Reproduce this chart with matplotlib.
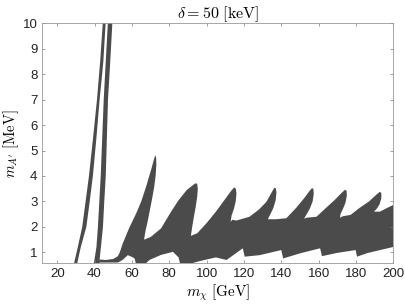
import matplotlib
matplotlib.use("Agg")
import matplotlib.pyplot as plt

plt.rcParams['font.family'] = ['Liberation Sans', 'DejaVu Sans']
plt.rcParams['mathtext.fontset'] = 'cm'

# allowed region (m_chi [GeV], m_A' [MeV])
band1_x = [28.8, 31.0, 33.4, 35.2, 37.0, 39.2, 41.3, 43.0, 44.5, 46.0, 44.7, 43.8, 42.7, 41.0, 39.1, 37.4, 35.6, 32.6, 30.5]
band1_y = [0.5, 1.2, 2.0, 3.0, 4.0, 5.5, 7.0, 8.5, 10.1, 10.1, 8.5, 7.8, 7.0, 5.5, 4.0, 3.0, 2.0, 1.2, 0.5]

band2_x = [39.5, 41.0, 41.8, 43.3, 44.9, 46.0, 47.2, 49.6, 48.4, 47.2, 46.0, 45.2, 44.5, 43.4, 42.4]
band2_y = [0.5, 1.2, 2.0, 4.0, 7.0, 8.5, 10.1, 10.1, 8.5, 7.0, 4.0, 3.0, 2.0, 1.2, 0.5]

# upper edge of the saw-tooth region, left to right
top_x = [42.3, 42.6, 46.0, 50.0, 52.5, 53.5, 55.1, 58.5, 62.3, 65.0, 67.6, 70.5, 71.8, 72.5,
         73.0, 73.1, 72.7, 71.9, 70.8, 69.6, 68.4, 67.3, 66.5,
         70.0, 75.6, 81.0, 85.0, 89.4, 92.5, 94.2,
         95.0, 95.3, 95.0, 94.2, 93.2, 92.3, 91.6,
         95.0, 100.0, 105.0, 110.0, 113.2, 114.8,
         115.7, 116.0, 115.6, 114.6, 113.4, 112.9, 113.8, 116.0,
         123.0, 128.0, 132.0, 134.8, 136.2,
         137.1, 137.4, 137.0, 135.8, 134.3, 132.8, 133.9, 137.0,
         142.7, 148.0, 152.5, 155.2, 156.4,
         157.2, 157.4, 156.8, 155.3, 153.6, 152.2, 153.5,
         158.9, 164.0, 168.5, 172.5, 174.2,
         175.0, 175.1, 174.4, 173.0, 171.8, 171.4, 173.0,
         177.1, 182.0, 187.0, 191.0, 192.8,
         193.6, 193.6, 192.6, 191.0, 189.6, 192.9, 196.0, 200.5]
top_y = [0.6, 0.72, 0.70, 0.74, 0.85, 1.0, 1.35, 1.95, 2.53, 3.0, 3.58, 4.3, 4.65, 4.82,
         4.7, 4.45, 4.0, 3.55, 3.1, 2.65, 2.2, 1.85, 1.5,
         1.6, 1.94, 2.6, 3.05, 3.45, 3.63, 3.72,
         3.68, 3.5, 3.2, 2.8, 2.4, 2.0, 1.65,
         1.75, 2.15, 2.6, 3.1, 3.42, 3.55,
         3.5, 3.3, 3.0, 2.7, 2.45, 2.2, 2.28, 2.25,
         2.4, 2.68, 2.98, 3.35, 3.53,
         3.52, 3.35, 3.05, 2.75, 2.52, 2.3, 2.3, 2.3,
         2.34, 2.75, 3.15, 3.42, 3.52,
         3.5, 3.3, 3.0, 2.72, 2.5, 2.32, 2.36,
         2.4, 2.75, 3.05, 3.35, 3.46,
         3.42, 3.22, 2.95, 2.7, 2.52, 2.36, 2.42,
         2.47, 2.75, 3.0, 3.27, 3.38,
         3.33, 3.12, 2.88, 2.7, 2.6, 2.6, 2.72, 2.88]

# lower edge, right to left
bot_x = [200.5, 192.9, 186.0, 180.6, 179.8, 170.0, 161.8, 160.8, 150.0, 141.0, 140.0,
         128.4, 120.4, 119.4, 110.7, 105.0, 100.0, 96.0, 92.0, 90.0,
         86.0, 85.0, 82.0, 75.6, 69.4, 66.5, 62.3,
         61.5, 60.6, 57.8, 55.0, 52.5, 42.3]
bot_y = [1.22, 1.09, 0.97, 0.83, 1.09, 0.98, 0.85, 1.16, 0.96, 0.76, 1.09,
         0.89, 0.83, 1.16, 0.7, 0.8, 0.72, 0.65, 0.57, 0.5,
         0.5, 0.8, 1.02, 0.9, 0.7, 0.5, 0.5,
         0.75, 0.8, 0.89, 0.7, 0.6, 0.6]

fill_col = '#4b4b4b'

fig = plt.figure(figsize=(4.05, 3.04), dpi=100)
ax = fig.add_axes([0.1044, 0.1339, 0.8667, 0.7895])

ax.fill(band1_x, band1_y, color=fill_col, lw=0)
ax.fill(band2_x, band2_y, color=fill_col, lw=0)
ax.fill(top_x + bot_x, top_y + bot_y, color=fill_col, lw=0)

ax.set_xlim(12, 200)
ax.set_ylim(0.57, 10)
ax.set_xticks(range(20, 201, 20))
ax.set_yticks(range(1, 11))
ax.tick_params(direction='in', length=2.5, width=0.5, color='#777777',
               top=True, right=True, labelsize=9.5, labelcolor='#222222', pad=3.5)
for s in ax.spines.values():
    s.set_color('#999999')
    s.set_linewidth(0.6)

ax.set_title(r'$\delta = 50\ \mathrm{[keV]}$', fontsize=11.5, pad=4)
ax.set_xlabel(r'$m_\chi\ \mathrm{[GeV]}$', fontsize=11, labelpad=2)
ax.set_ylabel(r"$m_{A'}\ \mathrm{[MeV]}$", fontsize=10.5, labelpad=1)

fig.savefig('out.png', dpi=100)
